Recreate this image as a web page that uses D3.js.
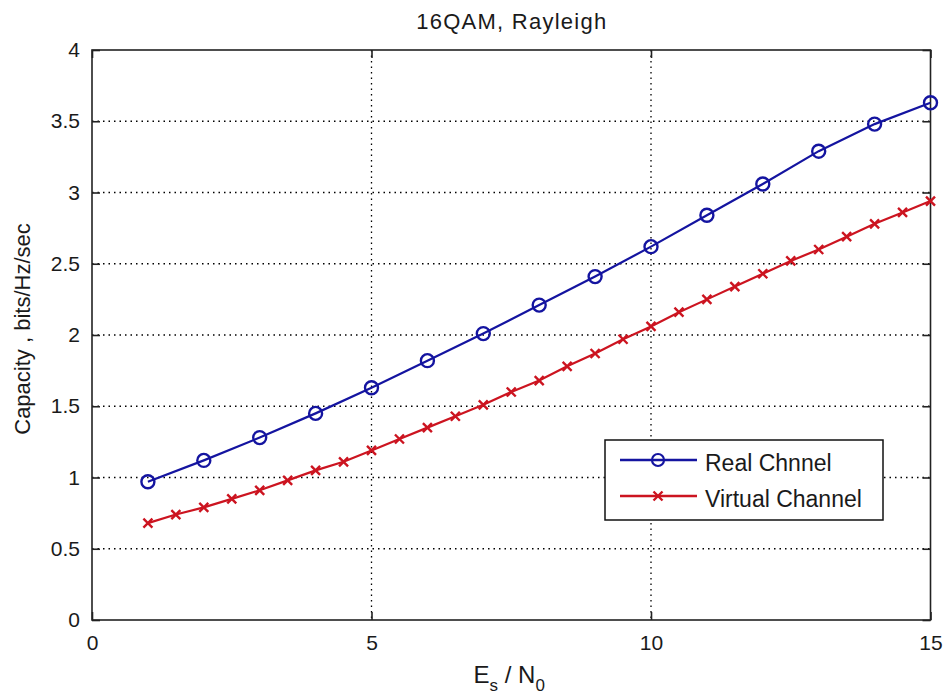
<!DOCTYPE html>
<html><head><meta charset="utf-8">
<script src="https://cdn.jsdelivr.net/npm/d3@7"></script>
<style>body{margin:0;background:#fff;} text{font-family:"Liberation Sans",Arial,sans-serif;fill:#1a1a1a;}</style>
</head><body><svg id="c" width="946" height="697"></svg>
<script>
const title = "16QAM, Rayleigh";
const xLabelMain = "E", xLabelSub1 = "s", xLabelMid = " / N", xLabelSub2 = "0";
const yLabel = "Capacity , bits/Hz/sec";
const xTicks = [0, 5, 10, 15];
const yTicks = [0, 0.5, 1, 1.5, 2, 2.5, 3, 3.5, 4];
const realX = [1,2,3,4,5,6,7,8,9,10,11,12,13,14,15];
const realY = [0.97,1.12,1.28,1.45,1.63,1.82,2.01,2.21,2.41,2.62,2.84,3.06,3.29,3.48,3.63];
const virtX = [1,1.5,2,2.5,3,3.5,4,4.5,5,5.5,6,6.5,7,7.5,8,8.5,9,9.5,10,10.5,11,11.5,12,12.5,13,13.5,14,14.5,15];
const virtY = [0.68,0.74,0.79,0.85,0.91,0.98,1.05,1.11,1.19,1.27,1.35,1.43,1.51,1.60,1.68,1.78,1.87,1.97,2.06,2.16,2.25,2.34,2.43,2.52,2.60,2.69,2.78,2.86,2.94];
const seriesNames = ["Real Chnnel", "Virtual Channel"];
const colors = ["#1414a0", "#cc1420"];

const svg = d3.select("#c");
const L = 92, R = 930.5, T = 50, B = 620;
const x = d3.scaleLinear().domain([0, 15]).range([L, R]);
const y = d3.scaleLinear().domain([0, 4]).range([B, T]);

// grid
const g = svg.append("g");
g.selectAll(".gx").data(xTicks.slice(1, -1)).enter().append("line")
  .attr("x1", d => x(d)).attr("x2", d => x(d)).attr("y1", T).attr("y2", B)
  .attr("stroke", "#000").attr("stroke-width", 1.3).attr("stroke-dasharray", "1.5,4");
g.selectAll(".gy").data(yTicks.slice(1, -1)).enter().append("line")
  .attr("x1", L).attr("x2", R).attr("y1", d => y(d)).attr("y2", d => y(d))
  .attr("stroke", "#000").attr("stroke-width", 1.3).attr("stroke-dasharray", "1.5,4");

// axes (ticks inward, all four sides)
const tickLen = 8;
const fontSize = 21;
const axB = d3.axisBottom(x).tickValues(xTicks).tickSize(-tickLen).tickPadding(15).tickFormat(d3.format("d"));
const axT = d3.axisTop(x).tickValues(xTicks).tickSize(-tickLen).tickFormat("");
const axL = d3.axisLeft(y).tickValues(yTicks).tickSize(-tickLen).tickPadding(12).tickFormat(d => String(d));
const axR = d3.axisRight(y).tickValues(yTicks).tickSize(-tickLen).tickFormat("");
function style(sel){
  sel.select(".domain").attr("stroke", "#222").attr("stroke-width", 1.6);
  sel.selectAll(".tick line").attr("stroke", "#222").attr("stroke-width", 1.6);
  sel.selectAll("text").attr("font-size", fontSize).attr("font-family", "Liberation Sans, Arial, sans-serif").attr("fill", "#222");
}
svg.append("g").attr("transform", `translate(0,${B})`).call(axB).call(style);
svg.append("g").attr("transform", `translate(0,${T})`).call(axT).call(style);
svg.append("g").attr("transform", `translate(${L},0)`).call(axL).call(style);
svg.append("g").attr("transform", `translate(${R},0)`).call(axR).call(style);
svg.selectAll(".domain").attr("d", null);
svg.append("rect").attr("x", L).attr("y", T).attr("width", R - L).attr("height", B - T)
  .attr("fill", "none").attr("stroke", "#222").attr("stroke-width", 1.6);

// series
const line = d3.line().x(d => x(d[0])).y(d => y(d[1]));
const realPts = realX.map((v, i) => [v, realY[i]]);
const virtPts = virtX.map((v, i) => [v, virtY[i]]);
svg.append("path").datum(virtPts).attr("d", line).attr("fill", "none").attr("stroke", colors[1]).attr("stroke-width", 2.2);
svg.append("path").datum(realPts).attr("d", line).attr("fill", "none").attr("stroke", colors[0]).attr("stroke-width", 2.2);

function cross(sel, cx, cy, s, col){
  sel.append("path").attr("d", `M${cx-s},${cy-s}L${cx+s},${cy+s}M${cx-s},${cy+s}L${cx+s},${cy-s}`)
    .attr("stroke", col).attr("stroke-width", 2.4).attr("fill", "none");
}
const vm = svg.append("g");
virtPts.forEach(p => cross(vm, x(p[0]), y(p[1]), 4.5, colors[1]));
svg.append("g").selectAll("circle").data(realPts).enter().append("circle")
  .attr("cx", d => x(d[0])).attr("cy", d => y(d[1])).attr("r", 6.5)
  .attr("fill", "none").attr("stroke", colors[0]).attr("stroke-width", 2.4);

// title
svg.append("text").attr("x", (L + R) / 2).attr("y", 29).attr("text-anchor", "middle")
  .attr("font-size", 22).attr("textLength", 190).text(title);

// x label
const xl = svg.append("text").attr("x", (L + R) / 2 - 2).attr("y", 683).attr("text-anchor", "middle").attr("font-size", 24);
xl.append("tspan").text(xLabelMain);
xl.append("tspan").attr("font-size", 17).attr("dy", 8).text(xLabelSub1);
xl.append("tspan").attr("dy", -8).text(xLabelMid);
xl.append("tspan").attr("font-size", 17).attr("dy", 8).text(xLabelSub2);

// y label
svg.append("text").attr("transform", `translate(30,${(T + B) / 2 - 6}) rotate(-90)`).attr("text-anchor", "middle")
  .attr("font-size", 22).text(yLabel);

// legend
const lg = svg.append("g");
lg.append("rect").attr("x", 605).attr("y", 440).attr("width", 278).attr("height", 80)
  .attr("fill", "#fff").attr("stroke", "#111").attr("stroke-width", 1.5);
const rows = [460, 496];
[0, 1].forEach(i => {
  lg.append("line").attr("x1", 620).attr("x2", 697).attr("y1", rows[i]).attr("y2", rows[i])
    .attr("stroke", colors[i]).attr("stroke-width", 2.4);
  if (i === 0) lg.append("circle").attr("cx", 658).attr("cy", rows[i]).attr("r", 6)
    .attr("fill", "none").attr("stroke", colors[0]).attr("stroke-width", 2.2);
  else cross(lg, 658, rows[i], 4.5, colors[1]);
  lg.append("text").attr("x", 705).attr("y", rows[i] + 11).attr("font-size", 23).text(seriesNames[i]);
});
</script></body></html>
